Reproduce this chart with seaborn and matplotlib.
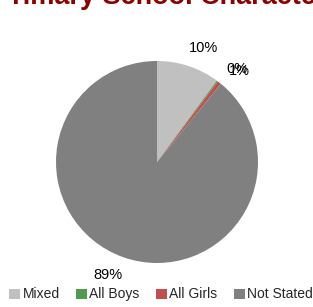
import numpy as np
import matplotlib
matplotlib.use("Agg")
from matplotlib import pyplot as plt
import seaborn as sns

# data (percent of schools)
categories = ['Mixed', 'All Boys', 'All Girls', 'Not Stated']
shares = [10.1, 0.2, 0.6, 89.1]
colors = ['#C0C0C0', '#4F9A4F', '#C0504D', '#808080']
title = 'Primary School Characteristics'

sns.set_style("white")
plt.rcParams['font.family'] = ['Liberation Sans', 'DejaVu Sans']

fig = plt.figure(figsize=(3.13, 3.07), dpi=100)
ax = fig.add_axes([56/313, 44/307, 202/313, 202/307])

wedges, texts, autotexts = ax.pie(shares, colors=colors, startangle=90, counterclock=False,
                                  autopct='%.0f%%', pctdistance=1.22, radius=1,
                                  wedgeprops={'linewidth': 0},
                                  textprops={'fontsize': 10.5, 'color': 'black'})

# labels sit a little clockwise of the slice middle, like the original
for t in autotexts:
    x, y = t.get_position()
    r = np.hypot(x, y)
    a = np.arctan2(y, x) - np.deg2rad(4)
    t.set_position((r*np.cos(a), r*np.sin(a)))

ax.set_xlim(-1, 1)
ax.set_ylim(-1, 1)
ax.set_aspect('equal')
ax.axis('off')

# title sits mostly above the canvas, only its lower edge shows
fig.text(-0.02, 0.987, title, ha='left', va='baseline', fontsize=19.5, fontweight='bold',
         color='#8B0000')

fig.legend(wedges, categories, loc='lower center', bbox_to_anchor=(0.515, 0.0), ncol=4,
           frameon=False, fontsize=10, handlelength=0.75, handleheight=0.75, handletextpad=0.2,
           columnspacing=1.2, borderaxespad=0)

fig.savefig('out.png', dpi=100)
